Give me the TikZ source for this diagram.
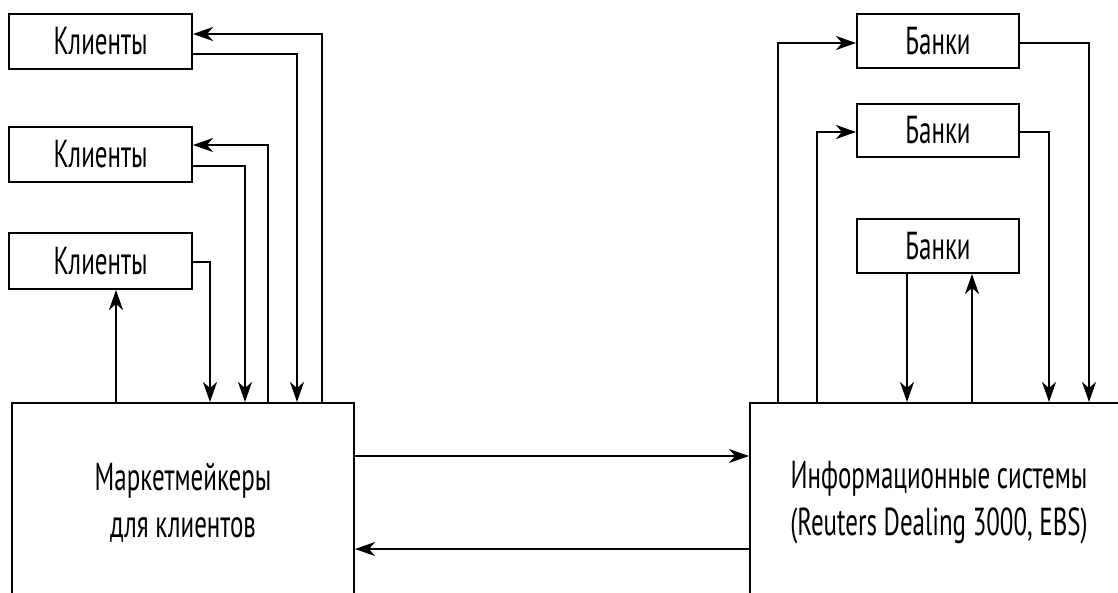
\documentclass[tikz,border=0pt]{standalone}
\usepackage{fontspec}
\setmainfont{PT Sans}[FakeStretch=0.64]
\usetikzlibrary{arrows.meta}
\tikzset{
  box/.style={draw, line width=2pt, inner sep=0pt, align=center,
    font=\fontsize{39}{47}\selectfont},
  arr/.style={line width=2pt, -{Stealth[length=20pt,width=14pt,inset=6pt]}},
  ln/.style={line width=2pt}
}
\begin{document}
\begin{tikzpicture}[x=1pt,y=-1pt]
\useasboundingbox (0,0) rectangle (1118,592);
\clip (0,0) rectangle (1118,592);
% clients
\node[box, minimum width=183pt, minimum height=55pt] (c1) at (100.5,41.5) {Клиенты};
\node[box, minimum width=183pt, minimum height=55pt] (c2) at (100.5,154.5) {Клиенты};
\node[box, minimum width=183pt, minimum height=56pt] (c3) at (100.5,261) {Клиенты};
% banks
\node[box, minimum width=162pt, minimum height=54pt] (b1) at (938,41) {Банки};
\node[box, minimum width=162pt, minimum height=53pt] (b2) at (938,130.5) {Банки};
\node[box, minimum width=162pt, minimum height=54pt] (b3) at (938,246) {Банки};
% big boxes
\node[box, minimum width=342pt, minimum height=200pt] (m) at (183,503) {Маркетмейкеры\\для клиентов};
\node[box, minimum width=378pt, minimum height=200pt] (i) at (939,503) {Информационные системы\\(Reuters Dealing 3000, EBS)};
% helper coordinates
\foreach \xx in {116,210,245,268,297,322,778,817,907,972,1049,1089}{
  \coordinate (x\xx) at (\xx,0);
}
\coordinate (y456) at (0,456);
\coordinate (y549) at (0,549);
% client connectors
\draw[arr] (m.north -| x322) |- ([yshift=7.5pt]c1.east);
\draw[arr] ([yshift=-12.5pt]c1.east) -| (m.north -| x297);
\draw[arr] (m.north -| x268) |- ([yshift=9.5pt]c2.east);
\draw[arr] ([yshift=-11.5pt]c2.east) -| (m.north -| x245);
\draw[arr] ([yshift=-1pt]c3.east) -| (m.north -| x210);
\draw[arr] (m.north -| x116) -- (c3.south -| x116);
% bank connectors
\draw[arr] (i.north -| x778) |- ([yshift=-2pt]b1.west);
\draw[arr] ([yshift=-2pt]b1.east) -| (i.north -| x1089);
\draw[arr] (i.north -| x817) |- ([yshift=-1.5pt]b2.west);
\draw[arr] ([yshift=-1.5pt]b2.east) -| (i.north -| x1049);
\draw[arr] (b3.south -| x907) -- (i.north -| x907);
\draw[arr] (i.north -| x972) -- (b3.south -| x972);
% between big boxes
\draw[arr] (m.east |- y456) -- (i.west |- y456);
\draw[arr] (i.west |- y549) -- (m.east |- y549);
\end{tikzpicture}
\end{document}
